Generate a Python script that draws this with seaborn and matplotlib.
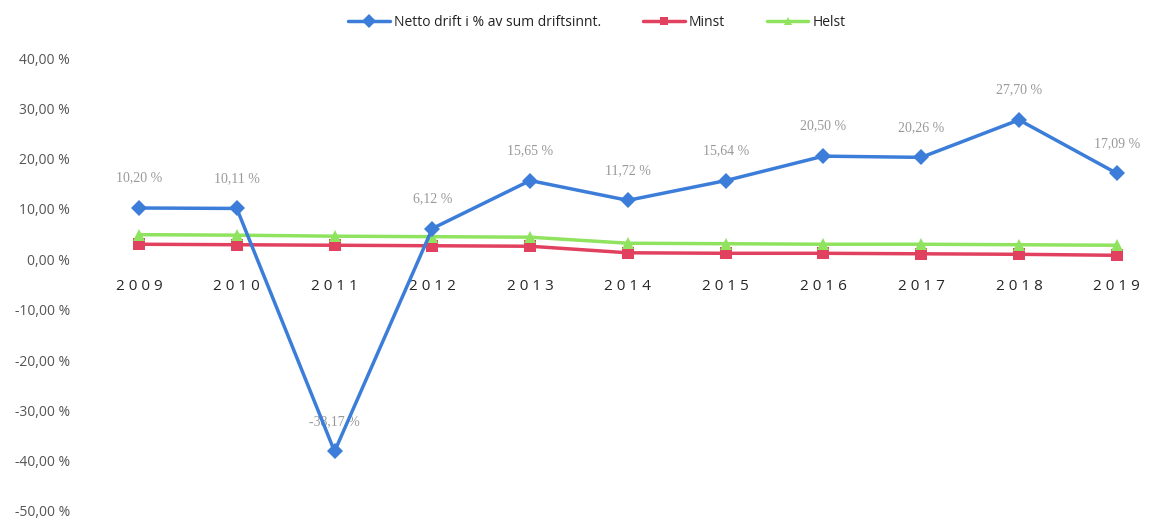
import matplotlib
matplotlib.use("Agg")
import matplotlib.pyplot as plt
import seaborn as sns
import pandas as pd
import numpy as np

years = ["2009", "2010", "2011", "2012", "2013", "2014", "2015", "2016", "2017", "2018", "2019"]
netto = [10.20, 10.11, -38.17, 6.12, 15.65, 11.72, 15.64, 20.50, 20.26, 27.70, 17.09]
minst = [3.0, 2.9, 2.8, 2.7, 2.6, 1.3, 1.2, 1.2, 1.1, 1.0, 0.8]
helst = [4.9, 4.8, 4.6, 4.5, 4.4, 3.2, 3.1, 3.0, 3.0, 2.9, 2.8]
series_names = ["Netto drift i % av sum driftsinnt.", "Minst", "Helst"]
yticks = [40, 30, 20, 10, 0, -10, -20, -30, -40, -50]

sns.set_theme(style="white")
plt.rcParams['font.family'] = ['Open Sans', 'DejaVu Sans']

fig = plt.figure(figsize=(11.5, 5.21), dpi=100)
ax = fig.add_axes([95/1150, 10/521, (1150-95)/1150, (511-58)/521])

x = np.arange(len(years))
df = pd.DataFrame({"x": x, "netto": netto, "minst": minst, "helst": helst})

sns.lineplot(data=df, x="x", y="netto", ax=ax, color="#3B7DD8", lw=2.5,
             marker="D", markersize=8.5, markeredgewidth=0, label=series_names[0], zorder=4)
sns.lineplot(data=df, x="x", y="minst", ax=ax, color="#E2405F", lw=2.5,
             marker="s", markersize=8, markeredgewidth=0, label=series_names[1], zorder=3)
sns.lineplot(data=df, x="x", y="helst", ax=ax, color="#8FE35E", lw=2.5,
             marker="^", markersize=8, markeredgewidth=0, label=series_names[2], zorder=3)

for xi, v in zip(x, netto):
    lab = f"{v:.2f}".replace(".", ",") + " %"
    ax.annotate(lab, (xi, v), xytext=(0, 17), textcoords="offset points",
                ha="center", va="bottom", fontsize=10, color="#999999",
                family=["Liberation Serif", "DejaVu Serif"])

ax.set_xlim(-0.45, 10.34)
ax.set_ylim(-50, 40)
ax.set_yticks(yticks)
ax.set_yticklabels([f"{t:.2f}".replace(".", ",") + " %" for t in yticks],
                   fontsize=10, color="#555555")
ax.set_xticks(x)
ax.set_xticklabels([" ".join(y) for y in years], fontsize=10.5, color="#555555")
ax.spines['bottom'].set_position(('data', 0))
for s in ax.spines.values():
    s.set_visible(False)
ax.tick_params(axis='x', length=0, pad=14)
ax.tick_params(axis='y', length=0, pad=18)
ax.set_xlabel("")
ax.set_ylabel("")
ax.grid(False)

leg = ax.legend(loc="center", bbox_to_anchor=(597/1150, 1 - 22/521), bbox_transform=fig.transFigure,
                ncol=3, frameon=False, fontsize=10, handlelength=3, columnspacing=3,
                handletextpad=0.3, markerscale=0.8)
for t in leg.get_texts():
    t.set_color("#222222")

fig.savefig("out.png", dpi=100)
